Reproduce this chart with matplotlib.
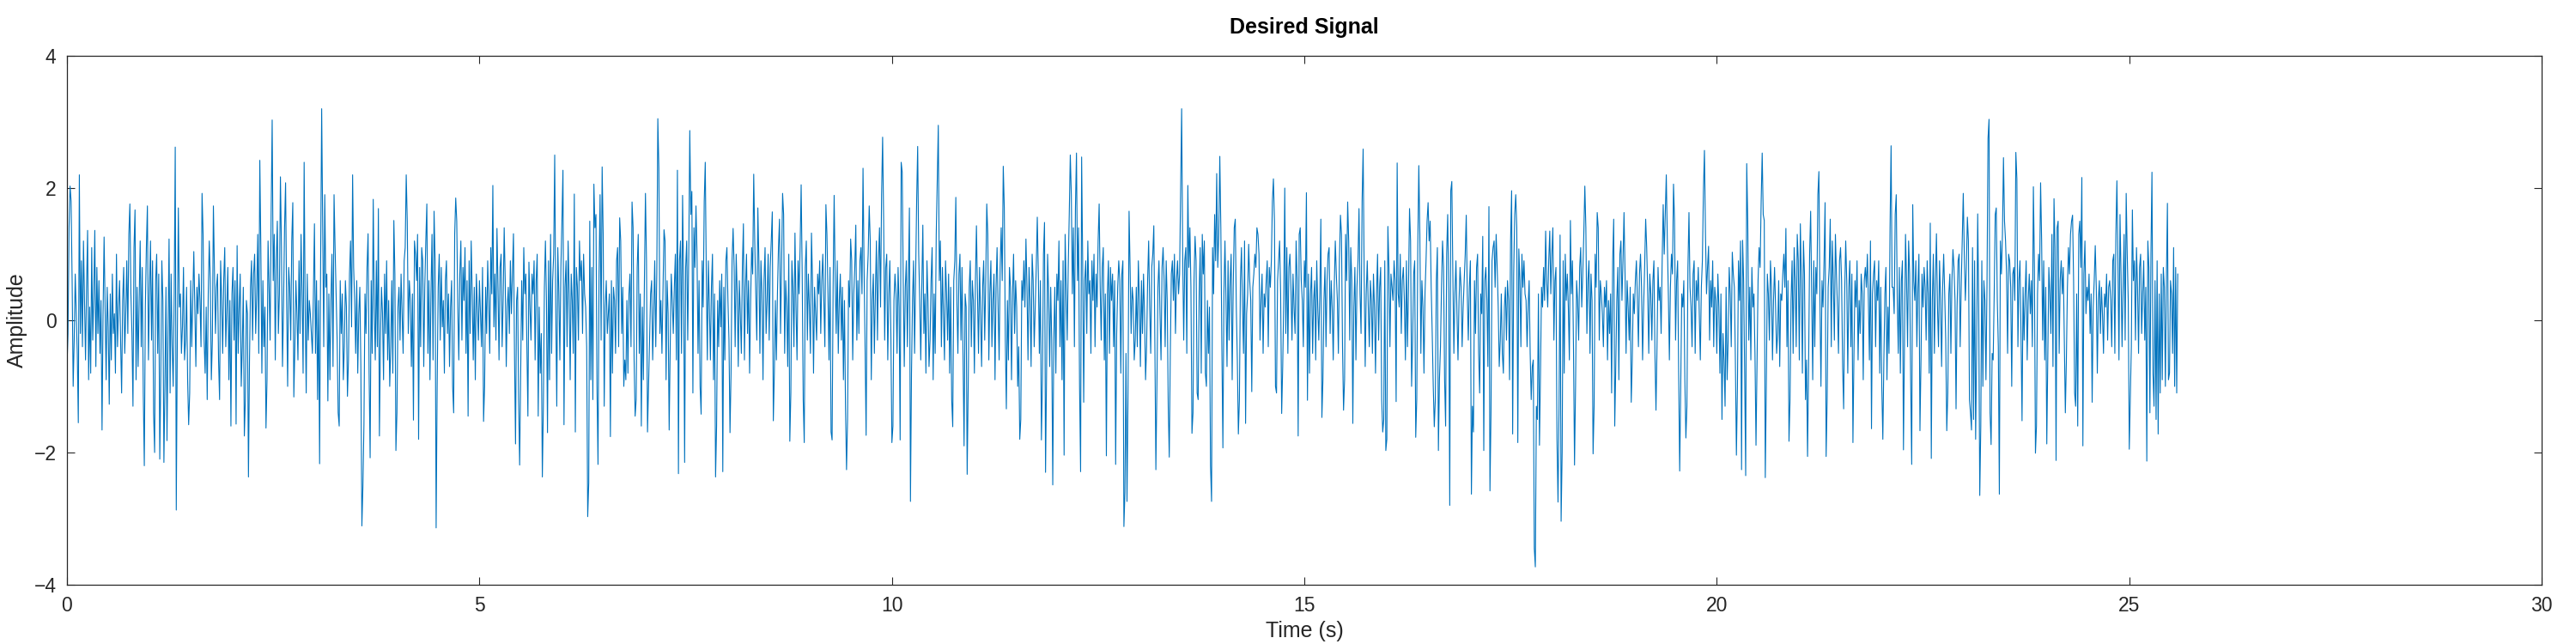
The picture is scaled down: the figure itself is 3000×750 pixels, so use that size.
import matplotlib
matplotlib.use("Agg")
import matplotlib.pyplot as plt
import numpy as np

# sample rate: 2048 samples over 25.6 s
FS = 80

# amplitude values, in blocks of 3.2 s (256 samples)
SIG_00 = [
    -0.7, -0.2, 1.4, 2.03, 1.8, 0.6, -1.0, -0.3, 0.7, 0.1, -0.5, -1.55, 2.2, -0.2, 0.9, -0.4,
    1.2, 0.3, -0.6, 0.5, 1.36, -0.9, 0.2, -0.8, 1.1, -0.3, 0.4, 1.36, -0.7, 0.8, -0.2, 0.6,
    -0.5, 0.3, -1.66, 0.1, 1.26, 0.2, -0.9, 0.5, -0.1, -1.27, 0.4, -0.6, 0.7, -0.2, 0.1, -0.8,
    1.0, -0.4, 0.2, 0.6, -0.3, -1.1, 0.3, 0.8, -0.5, 0.1, 0.9, -0.2, 1.3, 1.76, 0.4, -0.2,
    -1.3, 1.1, 1.67, -0.9, 0.5, -0.7, 0.3, 1.2, -0.4, 0.8, -1.1, -2.2, 0.2, 1.1, 1.73, -0.6,
    0.4, 1.2, -0.3, 0.9, -1.4, -2.0, 0.6, 1.0, -0.5, 0.7, -2.1, -0.8, 0.9, 0.3, -2.15, -1.0,
    0.5, -1.82, -0.2, 1.23, -1.1, 0.7, -0.4, -1.0, 0.4, 2.62, -2.87, -0.3, 1.7, 0.2, 0.4, -0.5,
    -0.1, 0.8, -0.6, -0.3, 0.5, -0.9, -1.58, -1.1, 0.6, -0.4, 0.3, 1.04, 0.2, -0.7, 0.5, 0.1,
    0.7, 0.3, -0.4, 1.92, 1.3, -0.3, -0.8, 0.2, -1.2, 0.4, 1.2, 0.6, -0.9, -0.3, 1.73, 0.8,
    -0.2, 0.5, 0.7, -0.6, -1.2, 0.9, 0.3, -0.5, 0.6, 1.1, -0.4, 0.2, 0.8, -0.9, 0.3, -1.6,
    0.4, 0.8, -0.3, 0.6, -1.57, 1.13, -0.5, 0.2, 0.7, -1.0, -0.4, 0.5, -1.75, -1.2, 0.3, 0.1,
    -2.37, -0.6, 0.5, 0.9, -0.3, 0.7, 1.0, -0.2, 0.4, 1.3, -0.5, 2.42, 1.1, -0.8, 0.6, -0.4,
    0.2, -1.63, -0.9, 1.2, 0.5, -0.3, 1.6, 3.03, 0.6, 1.3, -0.6, 0.9, 1.5, -0.2, 0.4, 2.17,
    1.1, -0.7, 0.2, 1.4, 2.08, 0.3, -1.0, 0.8, 0.5, -0.3, 1.2, 1.78, -1.16, -0.4, 0.6, 0.1,
    -0.6, 0.9, -0.2, 1.3, 0.4, -0.8, 2.39, 0.2, -1.1, 0.7, -0.3, 0.3, 0.1, -0.2, -0.5, 0.4,
    1.46, -0.5, 0.6, -1.2, 0.3, -2.17, 0.9, 3.2, 1.4, -0.4, 1.9, 0.5, 0.7, -1.22, 0.4, -0.9,
]

SIG_03 = [
    0.3, 1.0, -0.7, 1.9, 1.1, 0.4, -0.3, -1.4, -1.6, 0.6, -0.2, 0.4, -0.9, -0.4, 0.6, 0.2,
    -1.15, -0.6, 0.7, 1.2, -0.1, 2.2, 0.8, 0.3, -0.5, 0.6, -0.8, 0.1, 0.5, -0.7, -3.11, -2.5,
    -1.57, 0.4, -0.2, 0.8, 1.31, -0.8, -2.08, 0.6, -0.5, 1.83, 0.2, -0.6, 0.9, -0.4, 1.69, -1.75,
    -0.3, 0.5, 0.1, -0.9, 0.7, -0.2, 0.9, -0.6, 0.3, -1.0, -0.4, 0.6, -0.8, 1.51, 0.7, -1.97,
    -1.4, 0.2, 0.5, -0.3, 0.7, 0.1, -0.5, 0.9, 1.1, 2.2, 1.5, -0.2, 0.6, 0.3, -0.7, 0.4,
    -1.51, 1.2, 1.0, 0.6, 1.3, -1.8, 0.8, -0.4, 1.1, 0.9, -0.7, 0.5, 1.2, 1.76, -0.5, 0.6,
    -0.9, 0.4, 1.3, -0.6, 1.65, 0.9, -3.14, -1.0, 0.5, 1.0, -0.3, 0.8, -0.1, 0.3, -0.8, 0.6,
    0.9, -0.2, 0.4, -0.7, 0.2, 0.6, -1.0, -1.4, 1.3, 1.85, 1.5, 0.2, -0.6, 0.7, 1.2, -0.3,
    0.8, 0.3, 1.1, -0.5, 0.6, -1.45, 0.9, -0.2, 1.2, 0.4, -0.6, 0.5, -0.9, 0.7, 0.2, -0.3,
    0.6, 0.1, -0.4, 0.8, -1.53, -1.0, 0.5, -0.2, 0.9, 0.3, -0.5, 1.1, 0.4, 2.04, -0.1, 0.7,
    -0.3, 1.39, 0.5, -0.6, 0.8, 1.0, -0.4, 0.3, 1.4, 0.6, -0.7, 0.2, 0.5, -0.2, 0.9, 0.1,
    0.7, 1.31, -0.5, -1.87, 0.3, 0.5, -1.2, -2.19, -0.8, 0.6, -0.3, 1.1, 0.4, 0.7, -0.4, -1.45,
    0.88, 0.2, -0.3, 0.7, 0.4, 0.9, -0.6, 0.6, 1.0, -1.45, 0.2, -0.8, -0.2, -2.37, -1.3, 0.5,
    1.2, 0.3, -1.7, 0.9, -0.9, 1.3, -0.5, 0.6, 1.0, 2.5, 0.2, -1.3, 1.1, 0.4, -0.6, 0.8,
    1.5, 2.27, -1.58, 0.5, 0.9, -0.4, 1.2, 0.4, -0.9, 0.7, 0.3, -0.5, 1.91, -1.69, 0.8, 0.5,
    -0.3, 1.2, 0.6, 0.9, -0.2, 1.0, 0.4, 0.2, -0.4, -2.97, -2.46, 1.5, -0.9, 0.8, -1.2, 2.06,
]

SIG_06 = [
    1.4, 1.6, -1.0, -2.18, 0.7, 1.9, -0.3, 2.32, 1.3, -1.3, 0.2, 0.6, -0.2, 0.1, 0.4, -1.76,
    0.6, -0.8, 0.5, 0.3, -0.5, 0.9, 1.1, -0.4, 1.55, 1.2, -0.2, 0.5, -1.0, -0.6, -0.9, 0.3,
    -0.8, 0.4, 0.7, -0.4, 1.79, 1.4, -0.6, -1.45, -1.2, 0.8, 1.3, -0.5, 0.4, -1.6, 0.2, -0.9,
    0.6, 1.92, 0.9, -1.69, -1.0, -0.3, 0.4, 0.6, -0.6, 0.1, 0.9, -0.4, 0.7, 3.05, 2.3, -0.2,
    0.3, -0.5, 0.4, 1.37, 1.2, -0.9, 0.6, 0.1, -1.66, -0.4, 0.7, 0.3, -0.2, 0.5, 1.0, -0.6,
    2.27, -2.32, 0.9, 1.2, -0.5, 1.89, 0.6, -2.15, 0.8, 1.2, -0.3, 1.0, 2.87, 1.6, 1.95, -1.1,
    1.4, 0.8, 1.73, 1.0, -0.5, 0.6, -1.0, -1.42, 0.9, 0.2, 1.8, 2.39, 0.7, -0.6, 0.9, 0.2,
    -0.6, 0.5, 1.0, -0.9, 0.4, -2.37, -1.6, 0.3, -0.4, 0.6, -0.1, 0.7, -2.29, 0.5, -0.6, 0.9,
    1.1, 0.3, -0.3, -1.7, -0.8, 0.9, 1.39, 0.8, -0.4, 1.0, 0.4, -0.7, 0.6, 0.1, -0.5, 0.8,
    1.46, -0.6, 0.5, 1.0, -0.2, 0.6, -0.8, 0.3, 1.1, 0.7, 2.21, 1.2, 0.4, -0.3, 1.7, 0.9,
    -0.5, 0.9, 0.4, -0.9, 0.6, 1.1, -0.2, 0.3, 1.0, -0.3, 0.8, 1.2, 1.64, -1.52, -0.8, 0.3,
    -0.6, 0.4, 1.1, 1.53, -0.2, 0.8, 1.92, 1.6, -0.5, 0.6, 0.2, -0.7, 1.0, -1.83, -1.1, 0.9,
    0.5, -0.4, 1.32, 0.2, -0.6, 0.9, 0.4, 1.1, 2.05, 0.7, -1.2, -1.85, 0.8, 1.2, -0.3, 0.7,
    0.2, -0.5, 1.32, 0.6, -0.8, 0.5, 0.1, -0.3, 0.7, 0.4, 0.9, -0.2, 0.6, 1.0, 0.3, -0.4,
    1.75, 1.3, 0.4, -0.6, 0.8, -1.69, -1.81, 0.5, 1.89, 0.6, -0.2, 0.9, -0.5, 0.3, 0.7, -0.3,
    0.5, -0.9, 0.3, -1.3, -2.26, -1.5, 0.6, 0.2, 1.23, 0.9, -0.6, 0.4, 0.8, 1.44, -0.3, 0.6,
]

SIG_10 = [
    -0.2, 0.9, 1.1, 0.4, 2.3, 0.8, -0.4, -1.74, 0.6, 1.0, 1.73, 1.2, -0.9, 0.3, 0.7, -0.5,
    0.4, 1.2, -0.3, 0.9, 1.4, 0.2, 1.9, 2.77, 1.5, -0.3, 0.8, 1.0, -0.6, 0.4, 0.9, -0.2,
    -1.85, -1.6, 0.3, 0.7, 0.4, -0.5, 0.8, 0.2, -1.81, 2.39, 2.24, 0.6, -0.7, 0.5, 0.9, -0.4,
    0.7, 1.7, -2.74, -0.8, 0.3, 0.9, -0.5, 0.6, 1.8, 2.63, 1.0, 0.3, -0.6, 0.5, 1.44, -0.2,
    0.4, -0.8, 0.9, 0.3, -0.7, -0.3, 0.6, 1.1, -0.9, 0.4, -0.5, 1.3, 2.16, 2.95, 0.6, 1.2,
    -0.4, 0.8, 0.1, -0.6, 0.9, 0.4, -0.3, 0.7, -0.8, 0.5, -1.2, -1.61, 0.6, 0.9, 1.86, 0.3,
    -0.5, 0.7, 1.0, -0.3, 0.8, -0.6, -1.9, 0.4, 0.2, -2.33, -1.0, 0.5, 0.9, -0.4, 0.6, 0.3,
    -0.8, 0.6, 1.43, 0.4, -0.5, 0.8, 0.1, -0.7, 0.5, 0.9, -0.3, 0.6, 1.76, 1.3, -0.6, 0.4,
    0.9, -0.4, 0.3, 0.7, -0.9, 0.5, 1.1, 0.2, -0.6, 0.8, 1.4, 0.6, 2.33, 1.7, -0.3, -1.34,
    0.3, -0.6, 0.8, 0.5, -0.9, 0.4, 1.0, -0.2, 0.6, 0.2, -1.0, -0.4, -1.8, -1.5, 0.6, 0.3,
    0.9, 0.2, 1.23, 0.5, -0.6, 0.8, 0.3, -0.7, 1.0, 0.6, -0.4, 0.2, 0.8, 1.56, 0.7, -0.5,
    0.6, -1.81, -0.9, 1.0, 1.48, -2.3, -0.8, 1.0, 0.4, -0.7, 0.5, -0.3, -2.49, -0.3, 0.5, -0.8,
    0.7, 0.3, 1.2, -0.4, 0.6, -0.9, 0.9, -2.04, 1.3, 0.5, -0.3, 0.8, 1.6, 2.5, 1.9, 0.4,
    1.4, -0.4, 1.7, 2.53, 0.6, 1.4, -1.0, -2.29, 2.47, 0.9, -1.24, 0.6, 0.9, -0.2, 1.2, 0.4,
    0.6, -0.5, 0.9, 0.3, 1.0, -0.4, 0.7, 0.2, 1.2, 1.76, 0.5, -0.3, 0.8, 1.1, -0.6, 0.4,
    -2.05, 0.4, 0.9, -0.5, 0.8, 0.3, 0.7, -0.4, 0.6, -2.18, -0.2, 0.5, 0.9, 0.6, -0.8, 0.7,
]

SIG_13 = [
    0.9, -3.12, -2.6, -0.5, -2.74, -1.1, 1.65, 0.8, -0.2, 0.5, 0.3, -0.6, -0.3, 0.5, -0.4, 0.9,
    0.3, -0.7, 0.6, -0.2, 0.7, 0.1, -0.9, -0.4, 0.6, 1.2, 0.2, -0.5, 0.8, 1.0, 1.43, -0.3,
    -2.26, -1.0, 0.5, 0.9, 0.1, -0.6, 0.8, 1.1, 0.6, -0.4, 0.9, 0.3, -1.3, -2.07, -0.5, 0.7,
    0.9, 0.3, 1.0, -0.2, 0.6, 0.9, 0.4, 0.7, 2.0, 3.2, 1.0, -0.3, 0.9, 1.1, -0.5, 2.04,
    0.8, 1.4, 0.5, -1.71, -1.4, 0.6, 1.27, 0.9, -1.1, -1.2, 0.4, 1.1, -0.8, 1.3, 0.7, 1.2,
    -0.8, -1.0, 0.3, -0.5, 0.2, -2.2, -2.74, 1.1, 0.4, 1.6, 0.9, 2.22, 0.8, 1.3, 2.48, 1.4,
    -0.4, -1.93, 0.4, 1.2, 0.3, -0.7, 0.9, -0.3, 0.6, 1.0, -0.9, 0.5, 1.4, 1.53, 0.2, -0.6,
    -1.72, -1.2, 0.6, 1.1, 0.2, -0.5, 1.2, -1.56, 0.1, 0.4, 1.15, 0.6, 0.3, -1.08, 0.5, 0.7,
    1.0, 0.8, 1.4, 1.3, 1.0, -0.3, 0.3, 0.7, -0.5, 0.4, 0.2, 0.6, 0.9, -0.4, 0.8, 0.5,
    0.9, 1.8, 2.14, 1.5, -1.0, -1.1, 0.6, 0.9, 1.2, 0.4, -1.41, -0.7, 0.3, 2.0, -0.2, 1.1,
    -0.5, 0.8, 1.0, 0.5, -0.3, 0.7, 0.2, -0.2, 1.2, 0.6, -1.75, 1.3, 1.4, 0.6, 0.3, -0.4,
    0.9, 0.5, 1.93, -1.21, 0.7, -0.8, 0.4, 0.8, -0.5, 0.3, 0.6, -0.6, 0.9, 0.2, -0.3, 0.4,
    1.53, -1.47, -0.9, 0.3, 0.8, -0.4, 0.6, 1.0, 1.1, -0.2, 0.6, 0.2, -0.6, 0.5, 1.2, 0.7,
    0.3, -0.5, 0.9, 1.59, 1.3, -0.4, -1.36, -0.9, 1.3, 0.6, 1.79, 1.2, -0.3, 1.1, 0.6, -1.56,
    0.2, 0.8, -0.6, 0.5, 0.9, 1.69, 0.4, -0.2, 1.8, 2.59, 0.7, -0.7, 0.4, 0.9, 0.2, -0.4,
    0.6, 0.3, -0.5, 0.7, 0.2, -0.8, 0.4, 1.0, -0.3, 0.5, 0.8, -1.2, -1.69, -1.5, 0.9, -1.97,
]

SIG_16 = [
    -1.8, 1.42, 0.8, -0.4, 0.7, 0.5, 0.3, 0.9, 0.6, -1.23, 2.38, 0.4, 0.2, 1.0, -0.2, 0.6,
    0.8, 0.3, -0.6, 0.9, -0.4, 0.5, 1.69, 1.2, -1.0, -0.3, 0.7, 0.9, -1.77, -1.2, 1.1, 2.34,
    1.3, -0.5, 0.6, 0.2, -0.8, 0.4, 0.9, 1.5, 1.78, 1.2, 1.5, 0.5, -0.2, -1.0, -1.61, -1.2,
    0.6, 1.1, -1.97, -0.9, -0.4, 0.5, 1.2, 0.8, -0.9, -1.6, 1.0, 1.6, 0.4, -2.8, 1.96, 2.1,
    0.7, -0.5, 0.4, 0.9, 0.1, -0.6, 0.3, 0.8, 0.5, -0.4, 0.2, 0.6, 1.0, 1.59, 0.4, -0.3,
    0.5, 0.9, -2.63, -1.3, -1.69, 0.6, -0.2, 0.8, 1.0, -0.5, -1.1, 0.4, 0.1, 1.27, -1.97, 0.6,
    0.8, 0.3, -0.7, 1.72, -2.58, -1.4, 0.9, 1.1, 1.2, 0.5, 1.3, 0.8, 0.2, -0.7, -0.3, 0.4,
    -0.5, -0.8, 0.2, 0.5, -0.3, 0.6, 0.3, -0.9, 1.2, 1.96, -1.72, 0.7, 1.6, 1.9, 1.4, -1.85,
    1.08, 0.6, -0.4, 1.0, 0.5, 0.9, 0.4, 0.3, -0.4, 0.2, 0.6, -0.5, -1.2, -0.7, -0.6, -3.45,
    -3.73, -1.3, -1.5, 0.4, -1.89, -0.8, 0.5, 0.2, 0.8, 0.3, 1.35, 0.6, 0.2, 0.9, 1.35, 0.4,
    1.0, 1.4, -0.3, 0.6, 0.8, -1.8, -2.75, -1.3, 1.29, -3.04, -2.0, 0.9, -0.8, 1.0, 0.3, 0.7,
    0.2, -0.6, 1.51, 0.4, 0.9, -0.4, -2.19, -1.0, 0.6, 0.3, -0.3, 0.8, 1.1, 0.2, 0.7, 1.3,
    2.03, 1.4, -0.2, 0.6, 0.9, -0.5, 0.7, 0.3, -2.02, -1.3, 1.0, 0.5, 1.63, 1.4, -0.3, 0.6,
    0.4, 0.1, -0.4, 0.5, 0.2, 0.6, -0.6, 0.3, -0.2, 0.4, -1.1, 0.9, 1.53, -1.6, -0.7, 0.3,
    0.8, -0.9, 1.0, 1.2, 0.3, 0.9, 1.63, 0.7, -0.5, 0.6, 0.2, -0.3, 0.5, -1.24, -0.6, 0.4,
    0.1, 0.6, 0.9, 0.3, -0.4, 0.7, 1.0, 0.5, -0.6, 0.2, 0.8, 1.53, 1.1, 0.4, -0.5, 0.7,
]

SIG_19 = [
    0.4, -0.3, 0.6, 0.9, -0.5, -1.36, -0.4, 0.8, 0.3, 0.5, -0.2, 0.9, 1.75, 1.0, 1.6, 2.2,
    1.2, 0.4, -0.6, 0.5, 1.0, 0.7, 2.06, 1.5, -0.3, 0.6, 0.9, -0.8, -2.28, -1.0, 0.4, 0.2,
    0.6, -0.9, -1.78, -1.3, 0.8, 1.63, 0.5, 0.2, -0.4, 0.7, 0.9, -0.5, 0.6, 0.3, 0.8, 0.1,
    -0.6, 0.5, 0.9, 1.95, 2.57, 1.3, 0.4, 0.8, 1.12, -0.3, 0.6, 0.2, 0.9, -0.4, 0.5, 0.3,
    -0.5, 0.7, 0.2, -0.8, 0.4, -1.5, -0.2, -0.6, -1.3, 0.5, -0.9, -0.3, 0.8, 0.4, -0.4, 1.03,
    0.7, 0.5, -0.6, -2.04, -1.0, 0.9, 0.3, 1.2, -2.26, 1.21, 0.6, -0.8, -2.35, 2.37, 1.5, -0.3,
    0.5, -0.6, 0.8, 0.2, 0.4, -0.5, -1.89, -0.7, 0.6, 1.1, 0.8, 1.8, 2.53, 1.6, 1.51, -2.38,
    -1.0, 0.7, 0.4, -0.3, 0.9, 0.5, -0.6, 0.3, 0.8, 0.2, -0.5, -0.2, 0.6, -0.7, 0.4, 0.3,
    0.7, 1.0, 0.5, 1.39, -0.4, 0.6, -1.83, -1.2, 0.3, 0.9, -0.5, 1.1, 0.6, -0.4, 1.3, 0.9,
    -0.6, 1.46, 0.6, -0.8, 1.2, 0.7, -1.2, -0.6, -2.06, -0.7, 1.0, 1.65, 0.4, -0.9, 0.9, -0.4,
    0.8, 0.4, 1.9, 2.25, 0.3, -1.0, 0.6, 0.2, 0.9, 1.78, -2.06, -1.2, 0.5, 0.8, 1.53, -0.4,
    1.2, 0.6, -0.3, 1.3, 0.7, 0.2, -0.5, 0.9, 1.1, 0.6, -0.7, -1.34, 0.4, 1.2, 0.6, -0.8,
    0.5, 0.9, -0.4, 0.7, -1.85, -0.5, 0.6, 0.2, 0.9, -0.6, 0.3, -0.2, 0.7, 0.4, -0.9, 0.6,
    0.8, 0.5, 1.0, 0.3, -0.6, 1.2, -1.64, 0.4, 0.7, 0.9, -0.4, 0.6, 0.3, 0.9, -0.8, 0.5,
    -1.0, -1.8, -0.6, 0.4, 0.8, -0.9, 0.2, -0.5, 1.4, 2.64, 0.5, 0.5, 0.1, 1.6, 1.9, 0.3,
    -0.5, 0.8, -0.8, 0.6, 0.9, -1.96, -0.3, 1.3, 0.6, -0.4, 1.2, 0.7, -0.9, -2.18, 1.75, 0.6,
]

SIG_22 = [
    0.3, 0.9, -0.4, 0.5, 1.0, -1.67, -0.6, 0.7, 0.2, 0.8, 0.5, -0.3, 0.9, 0.4, -0.8, 1.47,
    -2.09, 0.3, 1.0, -0.5, 0.6, 1.31, 0.2, -0.4, 0.9, 0.3, -0.7, 0.5, 1.0, 0.4, -0.3, -1.67,
    -1.1, 0.4, 0.7, -0.5, 0.6, 1.07, 0.8, 0.3, -1.34, 0.2, 0.9, 1.0, -0.4, 0.5, 1.2, 1.92,
    1.0, 0.3, 0.8, 1.56, 1.2, -1.2, -1.4, -1.66, 1.1, -1.5, 0.9, -1.8, -0.4, 1.61, 0.2, -2.65,
    -1.6, 0.9, -1.0, 0.6, 0.3, -0.9, 0.5, 2.75, 3.04, -1.4, -1.88, -0.5, -0.6, 0.4, 1.6, 1.7,
    0.3, -0.4, -2.63, 1.2, 0.7, 1.3, 2.46, 1.5, 1.2, 0.7, -0.5, 1.0, 0.9, 0.5, -1.0, 0.7,
    0.8, 0.3, 2.54, 2.14, -0.4, 0.6, 0.9, -0.2, -1.52, 0.5, -0.3, 0.4, 0.9, -0.6, 0.3, 0.7,
    0.1, 0.6, -0.4, 2.02, 0.8, -2.01, -1.6, 0.4, 1.0, 0.6, 2.08, 1.2, -0.3, 0.9, -0.6, 0.5,
    -1.87, -0.5, 0.8, 0.4, -0.2, 1.3, -0.7, 1.84, 1.1, -2.12, 1.4, 1.5, -0.5, 0.6, 0.9, 0.4,
    0.8, -0.3, -1.4, -0.6, 0.5, 1.1, 0.7, 1.3, 1.5, 1.59, 0.6, -1.1, -1.3, 0.4, -1.6, 1.3,
    1.5, 0.8, 2.16, -1.9, 0.7, 1.2, 0.1, 0.5, 0.3, 0.7, -0.2, 0.4, -1.24, 0.2, 0.6, 1.13,
    0.5, -0.8, 0.3, 0.6, -0.2, 0.5, 0.1, -0.5, 0.4, 0.2, 0.7, -0.3, 0.5, 0.6, 0.3, -0.4,
    0.9, 1.0, -0.5, 1.3, 2.11, 0.9, -0.6, 1.6, 0.7, -0.4, 0.5, 1.3, -0.3, 1.92, 1.0, 0.3,
    -1.95, -1.2, -0.4, 1.67, 0.6, 0.9, -0.3, 1.1, 0.5, -0.5, 0.8, 1.0, -0.2, 0.4, 0.9, -0.3,
    0.5, -2.13, 1.2, 0.8, -1.4, 1.0, 2.24, -0.8, -1.3, 0.6, -1.5, 0.9, -1.72, 0.4, -1.1, 0.7,
    -0.9, 0.8, 0.5, -1.0, 0.6, 1.77, -0.9, -0.8, 0.6, 0.4, -0.5, 1.1, -1.0, 0.8, -1.1, 0.7,
]

X_TICKS = [0, 5, 10, 15, 20, 25, 30]
Y_TICKS = [-4, -2, 0, 2, 4]

LINE_COLOR = "#0072BD"
AXIS_COLOR = "#262626"


def main():
    plt.rcParams["font.family"] = ["Liberation Sans", "DejaVu Sans"]

    signal = np.array(SIG_00 + SIG_03 + SIG_06 + SIG_10 + SIG_13 + SIG_16 + SIG_19 + SIG_22)
    t = np.arange(len(signal)) / FS

    fig = plt.figure(figsize=(30, 7.5), dpi=100)
    ax = fig.add_axes([0.026, 0.092, 0.9607, 0.8213])

    ax.plot(t, signal, color=LINE_COLOR, linewidth=0.8)

    ax.set_xlim(0, 30)
    ax.set_ylim(-4, 4)
    ax.set_xticks(X_TICKS)
    ax.set_yticks(Y_TICKS)
    ax.set_yticklabels(["\u22124", "\u22122", "0", "2", "4"])

    ax.tick_params(direction="in", length=6.5, width=0.8, colors=AXIS_COLOR,
                   labelsize=16.5, top=True, right=True)
    ax.tick_params(axis="x", pad=9)
    ax.tick_params(axis="y", pad=9)
    for spine in ax.spines.values():
        spine.set_color(AXIS_COLOR)
        spine.set_linewidth(0.9)

    ax.set_title("Desired Signal", fontsize=18, fontweight="bold", color="black", pad=19)
    ax.set_xlabel("Time (s)", fontsize=18, color=AXIS_COLOR)
    ax.set_ylabel("Amplitude", fontsize=18, color=AXIS_COLOR)
    ax.xaxis.set_label_coords(0.5, -0.068)
    ax.yaxis.set_label_coords(-0.016, 0.5)

    fig.savefig("out.png", dpi=100, facecolor="white")


if __name__ == "__main__":
    main()
